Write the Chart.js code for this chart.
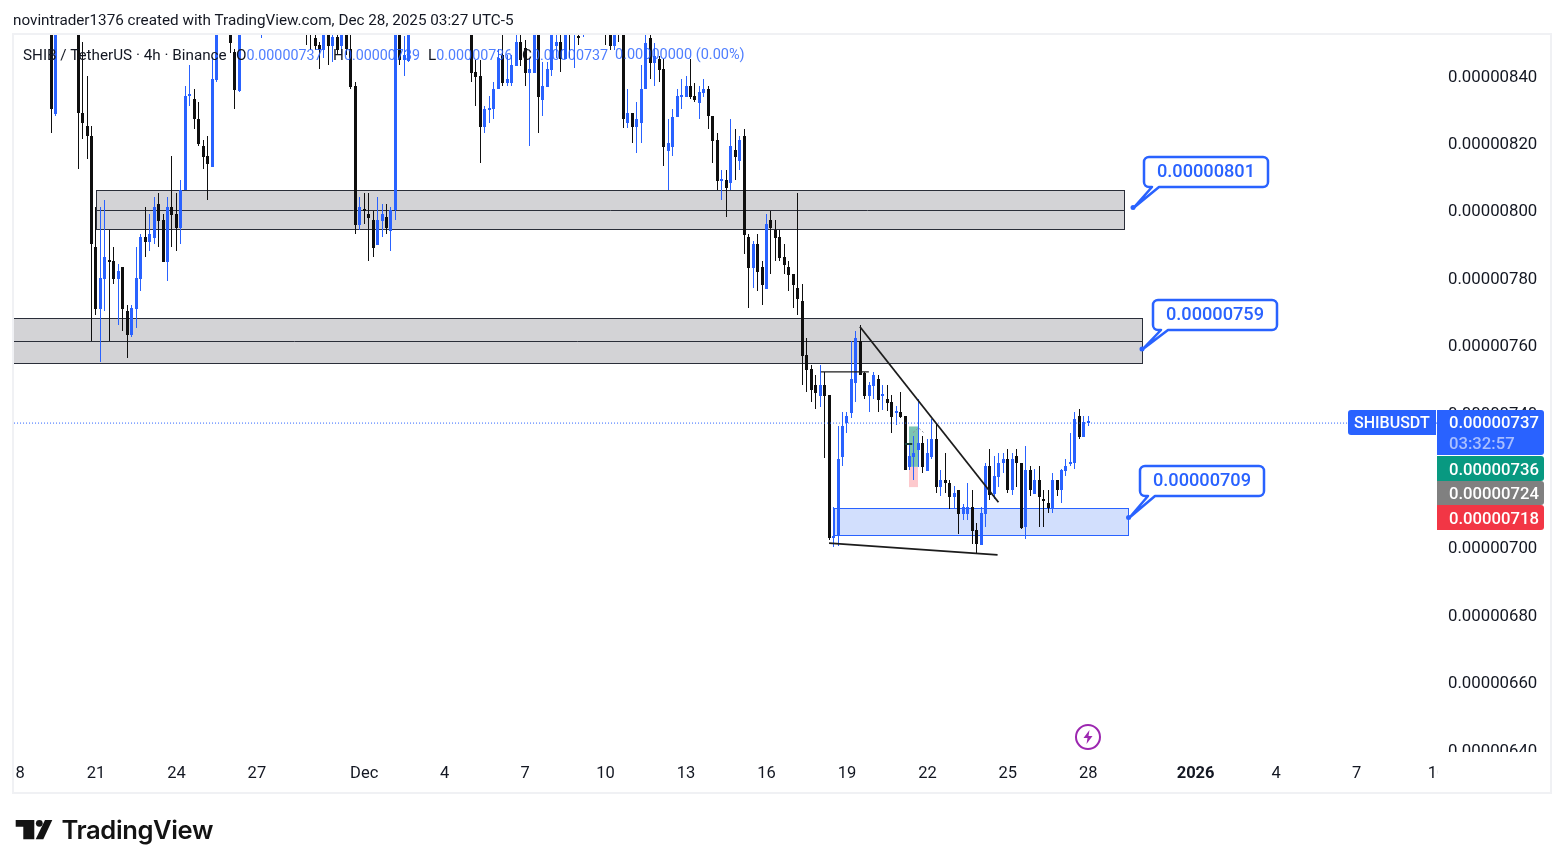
<!DOCTYPE html>
<html lang="en">
<head>
<meta charset="UTF-8">
<title>SHIB / TetherUS 4h</title>
<script src="https://cdn.jsdelivr.net/npm/chart.js"></script>
<style>
    html, body { margin: 0; background: #fff; overflow: hidden; }
    #wrap { position: relative; width: 1564px; height: 868px; font-family: Roboto, sans-serif; color: #131722; }
    #wrap span, #wrap svg { position: absolute; white-space: nowrap; }
    .hdr { font-size: 15.25px; line-height: 20px; }
    .val { color: #2962ff; opacity: .82; font-size: 14.3px; }
    #brand { left: 61.5px; top: 814px; font: 600 25.6px Inter, sans-serif; letter-spacing: -.4px; color: #131313; }
</style>
</head>
<body>
<div id="wrap">
    <canvas id="chart" width="1564" height="868" style="display:block"></canvas>
    <span class="hdr" style="left:13px;top:10px">novintrader1376 created with TradingView.com, Dec 28, 2025 03:27 UTC-5</span>
    <span class="hdr" style="left:23px;top:45px">SHIB / TetherUS · 4h · Binance</span>
    <span class="hdr" style="left:236px;top:45px">O<span class="val" style="position:static">0.00000737</span></span>
    <span class="hdr" style="left:333px;top:45px">H<span class="val" style="position:static">0.00000739</span></span>
    <span class="hdr" style="left:428px;top:45px">L<span class="val" style="position:static">0.00000736</span></span>
    <span class="hdr" style="left:522px;top:45px">C<span class="val" style="position:static">0.00000737</span></span>
    <span class="hdr val" style="left:615px;top:45px;font-size:14.5px">0.00000000 (0.00%)</span>

    <!-- replay flash badge -->
    <svg style="left:1074px;top:723px" width="28" height="28" viewBox="0 0 28 28">
        <circle cx="14" cy="14" r="12" fill="#fff" stroke="#9c27b0" stroke-width="2"/>
        <path d="M15.5 7 9.5 15h4l-1 6 6-8h-4z" fill="#9c27b0"/>
    </svg>

    <svg style="left:15px;top:819px" width="38" height="21" viewBox="0 0 38 21">
        <path d="M0.7 1H19.3V20.3H8.3V7.7H0.7z" fill="#131313"/>
        <circle cx="24.3" cy="4.3" r="3.4" fill="#131313"/>
        <path d="M37.3 1H30L20.7 20.3H28.3z" fill="#131313"/>
    </svg>
    <span id="brand">TradingView</span>
</div>

<script>
    // 4h candles, prices in units of 1e-8. Bars scrolled above the pane are left null.
    const opens = [
        null,null,null,null,null,null,null,null,858,828.6,
        null,null,null,null,856,828.9,825.2,822.2,789.3,771,
        779.9,785.2,785.1,779.9,783.3,770.3,763,771,779.9,792.2,
        790.7,791.9,802,797.3,784.8,801.1,799.1,794.9,806.2,834,
        833.2,827.2,819.2,816.3,813.1,838.8,null,null,856,847.1,
        835.6,null,null,null,null,856,null,null,null,null,
        null,null,null,null,null,858,856,851.3,849.2,847.7,
        856,848.9,851.6,848.9,852.5,848,837,795.8,800.4,799.1,
        797.3,789.9,797,798.2,794,800.2,856,844.7,844.5,null,
        null,null,null,null,null,null,null,null,null,null,
        null,null,856,841.2,840,825,829.9,830.1,836.1,846.2,
        838,838,843,850.1,848.3,841,841,856,832.9,836.7,
        841.8,848.9,850.1,845,856,854,852,854,null,null,
        null,null,856,852.2,848.9,856,856,826,828.9,825,
        826,836.1,851.3,843.9,845,842,817.8,819,827.9,833.8,
        833.9,837,834.1,831.9,835,836.1,828.1,821,808.8,809.1,
        808.2,818,814.9,822.2,792.2,783.1,790.2,783.2,776.9,797.3,
        794.3,792.2,786.3,783.3,781.3,777.1,773.2,757.2,753.1,748.3,
        745,748.3,745.4,703,703.7,727,737,740.1,749,761.4,
        752,745,748,750.1,745,744.2,743.3,740,740.2,739.1,
        724.1,726.9,729,731.1,722.9,726.9,732.2,718.1,720.1,719.2,
        715.2,717.2,710.1,710.1,712.1,705.3,700.9,710.1,724.3,716,
        721.1,725.2,726.4,717,727.3,725.2,706.1,723.1,716,720.1,
        714.4,713.4,711.7,720.1,717,722.9,725,725.2,739.1,733,
        737
    ];
    const highs = [
        null,null,null,null,null,null,null,null,862,860,
        null,null,null,null,860,850.1,840,825.2,801,801,
        803.2,794.3,789.3,784.2,783.3,772,772,789.3,793.1,801,
        799.1,804.1,805.3,799.1,804.1,816.3,805.3,809.1,837,843.3,
        836.1,832.3,821,822.2,845.6,860,null,null,860,848,
        860,null,null,null,null,862,null,null,null,null,
        null,null,null,null,null,862,860,855,850.2,860,
        860,856,856,856,856,854,838.1,804.1,805.3,805.3,
        800,804.1,802,802,801.1,860,860,852,860,null,
        null,null,null,null,null,null,null,null,null,null,
        null,null,860,844.7,844.7,831.1,834.1,838.2,848,852.2,
        846.2,846.2,852.2,852.2,850.7,845.3,860,860,844.2,844.2,
        860,853,853,860,860,860,858,860,null,null,
        null,null,860,856,856,860,860,836.1,829,832.3,
        843.3,852.2,854,849.9,845.9,845,827.2,830.2,836.1,839,
        840,845,838,837,839,837,828.1,823.1,812.1,812.1,
        827.2,824.2,822.2,824.3,793.1,791,793.1,785.1,799.1,800,
        797.3,794.3,790.2,785.1,781.3,805.2,778.3,762.2,754.3,751.3,
        754.3,752.2,745.4,712.2,736.2,740.3,740.3,761.4,764.3,766.1,
        752.2,749.2,752.2,751.3,748.3,748.3,745.4,742.1,746.2,739.1,
        730.8,733.2,744.1,733.2,732.3,738.2,737,723.1,728.1,720.1,
        718.4,717.2,713,719.2,717.2,707.4,712.1,725.2,729.3,727.3,
        728.1,728.2,729.3,728.2,729.3,725.2,730.2,724.3,723.4,724.3,
        717.2,717.2,722.2,720.1,723.4,726.4,734.2,740.3,741.1,739.1,
        739
    ];
    const lows = [
        null,null,null,null,null,null,null,null,823.2,828.1,
        null,null,null,null,812.3,821.2,815.3,761.3,769.2,755.2,
        770.4,761.3,778.4,766.2,764.4,756.4,762.4,765.3,776.3,786.3,
        788.1,790.2,789.3,784.8,779.2,789.3,788.1,790.2,806.2,831.1,
        824.3,819.2,812.3,803.2,813.1,838.3,null,null,846.8,830.3,
        835.3,null,null,null,null,851.4,null,null,null,null,
        null,null,null,null,null,849.2,847.7,847.7,842.2,845.3,
        843.3,844.2,846.2,846.2,846.2,836.1,793.2,794.4,796.1,785.1,
        786.3,789.9,792.2,793.1,788.1,797.3,843.3,840,844.2,null,
        null,null,null,null,null,null,null,null,null,null,
        null,null,838.3,831.1,814.3,823.2,826.1,827.2,836.1,837,
        837,837,843,843,837,819.2,841,823.2,828.1,836.7,
        840.1,845.3,841.3,845,845.3,842.4,849.2,851.6,null,null,
        null,null,849.2,847.7,847.7,850.2,824.6,824.6,820.2,817.2,
        820.2,836.1,839,837,838.3,813.3,806.2,816.3,827.9,830.2,
        833.9,833.1,832.4,827.2,833.9,824.2,814.3,806.2,803.2,798.3,
        806.2,809.1,812.1,787.2,771.3,777.2,776.3,772,776.9,781.3,
        785.2,785.2,781.3,776.2,771.2,769.1,748.3,746.3,743.4,741.2,
        741.9,726.7,702.3,700.3,700.5,724.3,734.2,738.4,743.4,751.3,
        744.2,740.4,744.2,740.4,740.9,740.6,734.2,736.4,738.4,723,
        723,720.1,724.1,722.3,722.9,726.4,716.4,715.4,716.4,711.5,
        711.5,704.1,708.3,708.3,701.1,698.4,700.9,706.3,714.2,714.5,
        718.1,722.3,716.4,715.7,718.1,705.5,702.5,715.4,716,706.3,
        706.3,710.4,710.4,715.4,713.4,721.3,724.3,723.4,732.2,733,
        736
    ];
    const closes = [
        null,null,null,null,null,null,null,null,830.1,856,
        null,null,null,null,828.9,826,822.2,790.1,771,780.1,
        786.3,784.8,779.9,782.1,771,763,771.2,780.1,792.2,790.7,
        793.1,801.1,797,784.8,801.1,798.8,794.9,806.2,834.1,834.3,
        827.2,819.8,816.1,813.9,839.1,856,null,null,849.8,835.8,
        856,null,null,null,null,858,null,null,null,null,
        null,null,null,null,null,855,853.5,848.9,847.7,856,
        848.9,851.6,847.7,852.2,848,836.6,795.9,801.1,800,797.9,
        789,797.3,799.1,794.9,800.2,856,844.7,846.2,856,null,
        null,null,null,null,null,null,null,null,null,null,
        null,null,841,839.8,825,830.2,830.3,836.1,845.3,838,
        839,843.3,850.1,844.7,841,842,856,833.9,837,842,
        856,850.1,845,856,854,856,851.2,856,null,null,
        null,null,853,848.9,852.2,854,827.2,828.9,825,827.2,
        836.1,849.9,843.9,845.9,841.8,819,820,827.9,834.1,834.2,
        837,833.7,832.9,835.3,836.1,828.1,820.8,808.9,809.2,806.9,
        819.2,816.1,821,792.8,783.1,790.2,781.9,778,796.1,794.9,
        791.9,786,784,781,778,773.8,757,752.8,746.8,745.9,
        748.3,745,703,703.4,726.4,736.2,739.1,750.1,762.3,751.3,
        745,748.3,751.3,743.9,745.4,743,738.8,740.4,738.9,723,
        727.3,728.2,731,724.1,728,732.2,718.1,720.1,719.2,715.2,
        716.3,710.1,712.1,712.1,705,701,710.4,724.3,715.7,721.3,
        725.2,726.4,717,726.4,725.2,706,723.1,717,720.1,715.2,
        714,711.7,720.1,717,723.1,724.3,725.4,738.2,733,737.3,
        737
    ];

    // time axis: bar number (4h each, from Nov 18) and its label
    const xTickBars   = [0, 18, 36, 54, 78, 96, 114, 132, 150, 168, 186, 204, 222, 240, 264, 282, 300, 318];
    const xTickLabels = ['18', '21', '24', '27', 'Dec', '4', '7', '10', '13', '16', '19', '22', '25', '28', '2026', '4', '7', '10'];

    const lastPrice  = 737;
    const targetPrice = 736, entryPrice = 724, stopPrice = 718;

    // supply / demand zones
    const zoneStartBars = [18, -1, 183];
    const zoneEndBars   = [248, 252, 248.9];
    const zoneTops      = [806.2, 768.2, 711.8];
    const zoneBottoms   = [794.6, 754.8, 703.8];
    const zoneMids      = [800.2, 761.3, null];

    // level callouts
    const calloutBars   = [250, 252, 249];
    const calloutLevels = [801, 759, 709];

    // hand-drawn wedge and small drawings, each as bars + prices
    const wedgeTopBars = [188.9, 219.9],  wedgeTopPrices = [765.6, 713.5];
    const wedgeLowBars = [182, 219.7],    wedgeLowPrices = [701.4, 697.9];
    const shelfBars    = [180.2, 190.9],  shelfPrices    = [752.2, 752.2];
    const entryBars    = [199, 200.6],    entryPrices    = [730.8, 730.8];
    const pathBars     = [200.8, 202, 203.3], pathPrices = [734.2, 735.6, 734];

    const BLUE = '#2962ff', BLACK = '#0f0f0f', INK = '#2a2e39';

    function fmt(v) { return (v / 1e8).toFixed(8); }
    function xy(xs, ys) { return xs.map((x, i) => ({ x: x, y: ys[i] })); }

    const wicks = [], bodies = [], colors = [];
    opens.forEach((o, i) => {
        if (o === null) return;
        wicks.push({ x: i, y: [lows[i], highs[i]] });
        bodies.push({ x: i, y: [o, closes[i]] });
        colors.push(closes[i] >= o ? BLUE : BLACK);
    });

    function lineSet(data, width, dash, color) {
        return {
            type: 'line', data: data, order: 0, borderColor: color || '#1c1c1c', borderWidth: width,
            borderDash: dash || [], pointRadius: 0, tension: 0, fill: false
        };
    }

    // snap candles to whole pixels so bodies and wicks stay crisp
    const snapPlugin = {
        id: 'snap',
        afterDatasetsUpdate(chart) {
            chart.getSortedVisibleDatasetMetas().forEach(meta => {
                if (meta.type !== 'bar') return;
                meta.data.forEach(el => {
                    el.x = Math.round(el.x - 0.5) + 0.5;
                    el.y = Math.round(el.y);
                    el.base = Math.round(el.base);
                });
            });
        }
    };

    // zones and the long position box go under the candles
    const underlayPlugin = {
        id: 'underlay',
        beforeDatasetsDraw(chart) {
            const { ctx, chartArea: a, scales: { x, y } } = chart;
            ctx.save();
            ctx.beginPath();
            ctx.rect(a.left, a.top, a.width, a.height);
            ctx.clip();

            zoneTops.forEach((top, i) => {
                const l = Math.round(x.getPixelForValue(zoneStartBars[i])) + 0.5;
                const r = Math.round(x.getPixelForValue(zoneEndBars[i])) + 0.5;
                const t = Math.round(y.getPixelForValue(top)) + 0.5;
                const b = Math.round(y.getPixelForValue(zoneBottoms[i])) + 0.5;
                const isDemand = zoneMids[i] === null;
                ctx.fillStyle = isDemand ? '#d2dffd' : '#d3d3d6';
                ctx.strokeStyle = isDemand ? BLUE : INK;
                ctx.lineWidth = 1;
                ctx.fillRect(l, t, r - l, b - t);
                ctx.strokeRect(l, t, r - l, b - t);
                if (!isDemand) {
                    const m = Math.round(y.getPixelForValue(zoneMids[i])) + 0.5;
                    ctx.beginPath();
                    ctx.moveTo(l, m);
                    ctx.lineTo(r, m);
                    ctx.stroke();
                }
            });

            const px0 = Math.floor(x.getPixelForValue(200)), px1 = Math.round(x.getPixelForValue(202));
            const yT = y.getPixelForValue(targetPrice), yE = y.getPixelForValue(entryPrice), yS = y.getPixelForValue(stopPrice);
            ctx.fillStyle = '#7cc4b1';
            ctx.fillRect(px0, yT, px1 - px0, yE - yT);
            ctx.fillStyle = '#fdc9cd';
            ctx.fillRect(px0, yE, px1 - px0, yS - yE);
            ctx.restore();
        }
    };

    function roundBox(ctx, l, t, w, h, r) {
        ctx.beginPath();
        ctx.roundRect(l, t, w, h, r);
    }

    // callouts, pane edges and price tags are drawn last
    const overlayPlugin = {
        id: 'overlay',
        afterDraw(chart) {
            const { ctx, chartArea: a, scales: { x, y } } = chart;
            ctx.save();

            // axis labels stop at the pane edges
            ctx.fillStyle = '#fff';
            ctx.fillRect(a.right + 1, a.bottom, 113, 10);
            ctx.fillRect(a.right + 1, a.bottom + 10, 20, 31);
            ctx.fillRect(0, a.bottom, a.left, 41);

            ctx.strokeStyle = '#f0f1f4';
            ctx.lineWidth = 2;
            ctx.strokeRect(13, 34, 1538, 759);

            const boxOffsets = [[11, -50], [11, -49], [11, -51]];
            calloutLevels.forEach((level, i) => {
                const ax = x.getPixelForValue(calloutBars[i]), ay = y.getPixelForValue(level);
                const left = Math.round(ax + boxOffsets[i][0]), top = Math.round(ay + boxOffsets[i][1]);
                const w = 124, h = 30, bottom = top + h;
                ctx.strokeStyle = BLUE;
                ctx.fillStyle = '#fff';
                ctx.lineWidth = 2.5;
                ctx.lineJoin = 'round';
                ctx.beginPath();
                ctx.moveTo(left + 5, top);
                ctx.arcTo(left + w, top, left + w, bottom, 5);
                ctx.arcTo(left + w, bottom, left, bottom, 5);
                ctx.lineTo(left + 15, bottom);
                ctx.lineTo(ax + 1, ay);
                ctx.lineTo(left + 8, bottom);
                ctx.arcTo(left, bottom, left, top, 5);
                ctx.arcTo(left, top, left + w, top, 5);
                ctx.closePath();
                ctx.fill();
                ctx.stroke();
                ctx.fillStyle = BLUE;
                ctx.beginPath();
                ctx.arc(ax, ay, 2.5, 0, Math.PI * 2);
                ctx.fill();
                ctx.font = '500 18.2px Roboto';
                ctx.textAlign = 'center';
                ctx.textBaseline = 'middle';
                ctx.fillText(fmt(level), left + w / 2, top + h / 2);
            });

            // price tags stacked on the axis
            const tagL = a.right, tagW = 107;
            ctx.textAlign = 'left';
            ctx.textBaseline = 'middle';
            ctx.fillStyle = BLUE;
            roundBox(ctx, 1348, 410, 88, 25, [3, 0, 0, 3]);
            ctx.fill();
            roundBox(ctx, tagL, 410, tagW, 45, [0, 3, 3, 0]);
            ctx.fill();
            ctx.fillStyle = '#fff';
            ctx.font = '500 16px Roboto';
            ctx.fillText('SHIBUSDT', 1354, 424);
            ctx.font = '500 16.7px Roboto';
            ctx.fillText(fmt(lastPrice), tagL + 12, 424);
            ctx.fillStyle = '#a9bfff';
            ctx.fillText('03:32:57', tagL + 12, 445);

            [[targetPrice, '#089981', 456, 25], [entryPrice, '#808080', 481, 24], [stopPrice, '#f23645', 505, 25]].forEach(t => {
                ctx.fillStyle = t[1];
                roundBox(ctx, tagL, t[2], tagW, t[3], [0, 3, 3, 0]);
                ctx.fill();
                ctx.fillStyle = '#fff';
                ctx.fillText(fmt(t[0]), tagL + 12, t[2] + t[3] / 2 + 2);
            });
            ctx.restore();
        }
    };

    new Chart(document.getElementById('chart').getContext('2d'), {
        type: 'bar',
        data: {
            datasets: [
                lineSet(xy(wedgeTopBars, wedgeTopPrices), 1.8),
                lineSet(xy(wedgeLowBars, wedgeLowPrices), 1.8),
                lineSet(xy(shelfBars, shelfPrices), 1.2),
                lineSet(xy(entryBars, entryPrices), 2, null, '#17403a'),
                lineSet(xy(pathBars, pathPrices), 1, [2, 2], '#8a8f98'),
                lineSet(xy([-1, 318], [lastPrice, lastPrice]), 1, [1, 2], BLUE),
                { data: bodies, order: 1, backgroundColor: colors, barThickness: 3, minBarLength: 2, inflateAmount: 0, grouped: false, borderWidth: 0 },
                { data: wicks, order: 2, backgroundColor: colors, barThickness: 1, inflateAmount: 0, grouped: false, borderWidth: 0 }
            ]
        },
        options: {
            responsive: false,
            animation: false,
            layout: { padding: { left: 13, top: 34, right: 13, bottom: 75 } },
            plugins: { legend: { display: false }, tooltip: { enabled: false } },
            scales: {
                x: {
                    type: 'linear',
                    min: -0.56,
                    max: 318,
                    offset: false,
                    border: { display: false },
                    grid: { display: false, drawTicks: false },
                    afterBuildTicks: s => { s.ticks = xTickBars.map(v => ({ value: v })); },
                    afterFit: s => { s.height = 41; s.paddingLeft = 0; s.paddingRight = 0; },
                    ticks: {
                        autoSkip: false, maxRotation: 0, minRotation: 0, padding: 12, color: '#131722',
                        font: c => ({ family: 'Roboto', size: 16.5, weight: c.tick && c.tick.value === 264 ? 'bold' : 'normal' }),
                        callback: (v, i) => xTickLabels[i]
                    }
                },
                y: {
                    position: 'right',
                    min: 639.4,
                    max: 852.46,
                    border: { display: false },
                    grid: { display: false, drawTicks: false },
                    afterFit: s => { s.width = 114; },
                    ticks: {
                        stepSize: 20, includeBounds: false, autoSkip: false, padding: 11, crossAlign: 'near', color: '#131722',
                        labelOffset: 1.5,
                        font: { family: 'Roboto', size: 16.8 },
                        callback: v => fmt(v)
                    }
                }
            }
        },
        plugins: [snapPlugin, underlayPlugin, overlayPlugin]
    });
</script>
</body>
</html>
